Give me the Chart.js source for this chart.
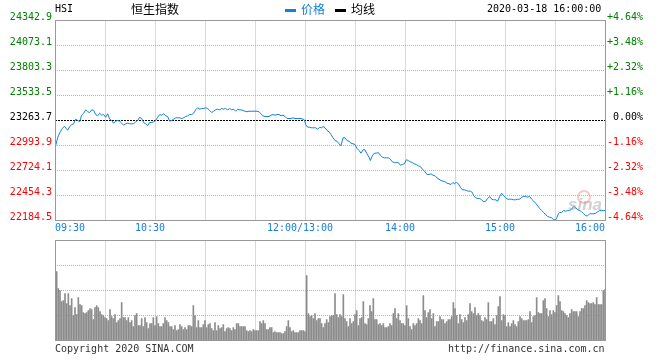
<!DOCTYPE html>
<html><head><meta charset="utf-8">
<script src="https://cdn.jsdelivr.net/npm/chart.js@4.4.1/dist/chart.umd.min.js"></script>
<style>
html,body{margin:0;padding:0;background:#fff;}
#wrap{position:relative;width:660px;height:360px;overflow:hidden;background:#fff;}
canvas{position:absolute;left:0;top:0;}
.t{position:absolute;white-space:nowrap;font-family:"DejaVu Sans Mono",monospace;font-size:10px;line-height:10px;color:#000;}
.c{position:absolute;white-space:nowrap;font-family:"Noto Sans CJK SC",sans-serif;font-size:12px;line-height:12px;color:#000;}
.dash{position:absolute;height:3px;width:11px;}
</style></head><body>
<div id="wrap">
<canvas id="vol" width="660" height="360"></canvas>
<canvas id="main" width="660" height="360"></canvas>
<div class="t" style="left:55px;top:4px;">HSI</div>
<div class="c" style="left:131px;top:3px;">恒生指数</div>
<div class="dash" style="left:285px;top:9px;background:#1580d8;"></div>
<div class="c" style="left:301px;top:3px;color:#1580d8;">价格</div>
<div class="dash" style="left:335px;top:9px;background:#000;"></div>
<div class="c" style="left:351px;top:3px;">均线</div>
<div class="t" style="left:487px;top:4px;">2020-03-18 16:00:00</div>
<div class="t" style="left:55px;top:344px;color:#333;">Copyright 2020 SINA.COM</div>
<div class="t" style="left:448px;top:344px;color:#333;">http://finance.sina.com.cn</div>
<div style="position:absolute;left:577px;top:190px;width:10px;height:10px;border:2px solid rgba(240,130,130,0.45);border-radius:50%;"></div>
<div style="position:absolute;left:568px;top:196px;font:italic bold 17px 'Liberation Sans',sans-serif;line-height:17px;color:rgba(150,150,150,0.45);">sina</div>
</div>
<script>
// ---------------- DATA ----------------
const prevClose = 23263.7;
const priceTicks = [22184.5, 22454.3, 22724.1, 22993.9, 23263.7, 23533.5, 23803.3, 24073.1, 24342.9];
const pctTicks = [-4.64, -3.48, -2.32, -1.16, 0, 1.16, 2.32, 3.48, 4.64];
const gridMinutes = [0, 30, 60, 90, 120, 150, 180, 210, 240, 270, 300, 330];
const timeTicks = [0, 60, 150, 210, 270, 330];
const timeLabels = ['09:30', '10:30', '12:00/13:00', '14:00', '15:00', '16:00'];
const volGrid = [0, 25, 50, 75, 100];

// trading minute index (0 = 09:30, 150 = 12:00/13:00, 330 = 16:00)
const priceTime = [
0,1.2,2.0,3.2,4.4,5.6,6.8,7.6,8.8,10.0,11.2,12.4,13.6,14.8,16.0,17.2,18.4,19.6,20.8,22.0,
23.2,24.4,25.6,26.8,28.0,29.2,30.4,31.6,32.8,34.0,35.2,36.4,37.6,38.8,40.0,41.2,42.4,43.6,44.8,46.0,
47.2,48.4,49.6,50.8,52.0,53.2,54.4,55.6,56.8,58.0,59.2,60.4,61.6,62.8,64.0,65.2,66.4,67.6,68.8,70.0,
71.2,72.4,73.6,74.8,76.0,77.2,78.4,79.6,80.8,82.0,83.2,84.4,85.6,86.8,88.0,89.2,90.4,91.6,92.8,94.0,
95.2,96.4,97.6,98.8,100.0,101.2,102.4,103.6,104.8,106.0,107.2,108.4,109.6,
110.4,111.6,112.8,114.0,115.2,116.4,117.6,118.8,120.0,121.2,122.4,123.6,124.8,126.0,127.2,128.4,129.6,130.8,132.0,133.2,
134.4,135.6,136.8,138.0,139.2,140.4,141.6,142.8,144.0,145.2,146.4,147.6,148.8,149.6,150.4,151.6,152.8,154.0,155.2,156.4,
157.6,158.8,160.0,160.8,162.0,163.2,164.4,165.6,166.8,168.0,169.2,170.4,171.6,172.8,174.0,175.2,176.4,177.6,178.8,180.0,
181.2,182.4,183.6,184.8,186.0,187.2,188.4,189.2,190.4,191.6,192.8,194.0,195.2,196.4,197.6,198.8,200.0,201.2,202.4,203.6,
204.8,206.0,207.2,208.4,209.6,210.8,212.0,213.2,214.4,215.6,216.8,218.0,219.2,
220.8,222.0,223.2,224.4,225.6,226.8,228.0,229.2,230.4,231.6,232.8,234.0,235.2,236.4,237.6,238.8,239.6,240.8,242.0,243.2,
244.4,245.6,246.8,248.0,249.2,250.4,251.2,252.4,253.6,254.8,256.0,257.2,258.4,259.6,260.8,262.0,263.2,264.4,265.6,266.8,
268.0,269.2,270.4,271.6,272.8,274.0,275.2,276.4,277.6,278.8,280.0,281.2,282.4,283.6,284.8,286.0,287.2,288.4,289.6,290.8,
292.0,293.2,294.4,295.6,296.8,298.0,299.2,300.4,301.2,302.0,302.8,304.0,305.2,306.4,307.6,308.8,310.0,311.2,312.4,313.6,
314.8,316.0,317.2,318.4,319.6,320.8,322.0,323.2,324.4,325.6,326.8,328.0,329.2,330
];
const priceValue = [
22958,23051,23099,23142,23177,23202,23177,23159,23196,23221,23228,23278,23264,23250,23321,23342,23379,23358,23350,23379,
23372,23328,23314,23342,23321,23328,23299,23336,23278,23264,23235,23256,23264,23256,23235,23213,23228,23235,23228,23228,
23228,23250,23264,23299,23285,23242,23228,23207,23242,23242,23250,23264,23299,23328,23321,23336,23314,23307,23256,23264,
23278,23293,23293,23293,23285,23293,23307,23314,23328,23328,23342,23379,23401,23386,23393,23393,23401,23393,23372,23350,
23364,23379,23386,23379,23393,23386,23393,23379,23393,23379,23386,23364,23386,
23379,23379,23372,23364,23358,23364,23364,23364,23364,23364,23358,23336,23314,23307,23307,23307,23321,23328,23321,23328,
23328,23314,23321,23307,23285,23285,23285,23293,23285,23285,23285,23285,23278,23271,23221,23191,23191,23185,23185,23185,
23170,23191,23185,23199,23185,23156,23142,23113,23077,23048,23040,23012,22991,23077,23077,23048,23040,23019,23012,23005,
22962,22940,22911,22948,22948,22904,22868,22832,22883,22911,22911,22918,22889,22868,22861,22861,22861,22846,22818,22810,
22810,22810,22781,22789,22796,22840,22832,22818,22810,22796,22789,22775,22767,
22732,22710,22681,22681,22689,22673,22667,22645,22630,22616,22609,22602,22587,22581,22573,22595,22581,22595,22581,22544,
22516,22516,22508,22501,22501,22487,22451,22430,22422,22422,22408,22386,22393,22422,22444,22414,22408,22408,22393,22444,
22479,22451,22430,22414,22414,22414,22408,22408,22414,22414,22436,22444,22444,22436,22444,22414,22393,22371,22343,22314,
22292,22271,22249,22228,22220,22214,22192,22192,22220,22257,22271,22271,22292,22285,22292,22292,22306,22336,22322,22300,
22292,22278,22257,22235,22235,22257,22257,22257,22263,22278,22292,22292,22292,22292
];

// per-minute volume (relative units, panel top = 100), minutes 1..330
const volume = [
69,52,50,39,40,47,37,47,35,42, 25,33,26,43,36,35,28,27,28,30, 32,31,21,33,35,33,29,26,25,23,
22,20,31,24,22,26,18,20,22,38, 23,23,20,23,18,20,14,25,27,15, 15,22,14,23,18,12,17,17,23,15,
24,17,14,14,17,23,20,18,14,14, 11,15,10,11,16,14,11,13,11,15, 15,14,35,25,13,20,13,13,16,20,
13,16,17,12,10,18,10,15,12,13, 16,9,12,13,12,10,13,11,17,
17,14,14,14,14,10,9,10,9,11, 10,10,10,19,17,20,17,11,11,13, 13,8,9,8,8,8,7,7,9,14,
20,13,9,10,8,8,8,10,10,10, 9,
65,27,24,25,22,27,20,22,22,17, 13,17,21,18,24,25,25,47,26,23, 26,24,46,22,19,14,22,17,19,26,
30,15,22,23,39,17,16,22,35,29, 42,21,21,16,17,15,17,13,13,14, 17,15,27,32,22,27,20,17,17,15,
35,22,14,11,17,15,17,22,20,17,
45,30,23,28,31,22,27,14,19,19, 24,21,21,17,19,21,21,24,38,32, 25,17,26,21,18,23,20,26,37,29,
27,33,25,27,25,20,19,23,21,38, 19,19,22,16,25,34,44,20,26,25, 14,18,14,17,20,16,14,19,24,22,
20,20,20,21,29,18,24,25,43,28, 27,27,40,42,32,24,30,26,30,28, 35,45,39,30,29,27,25,23,27,31,
29,29,29,24,29,32,32,35,40,38, 37,37,38,36,43,36,36,36,50,51
];

// ---------------- STYLE ----------------
const BLUE = '#1580d8';
const GRID = '#b4b4b4';
const FRAME = '#999999';
const GREEN = '#008000';
const RED = '#ff0000';
const MONO = {family: "'DejaVu Sans Mono', monospace", size: 10};

const framePlugin = {
  id: 'frame',
  afterDatasetsDraw(chart) {
    const {ctx, chartArea: a} = chart;
    ctx.save();
    ctx.strokeStyle = FRAME;
    ctx.lineWidth = 1;
    ctx.setLineDash([]);
    const l = Math.round(a.left) + 0.5, r = Math.round(a.right) + 0.5;
    const t = Math.floor(a.top) + 0.5, b = Math.floor(a.bottom) + 0.5;
    ctx.strokeRect(l, t, r - l, b - t);
    ctx.restore();
  }
};

const timeLabelPlugin = {
  id: 'timeLabels',
  afterDraw(chart) {
    const {ctx, scales: {x}} = chart;
    ctx.save();
    ctx.font = "10px 'DejaVu Sans Mono', monospace";
    ctx.fillStyle = BLUE;
    ctx.textBaseline = 'alphabetic';
    timeTicks.forEach((v, i) => {
      let px = x.getPixelForValue(v);
      if (i === 0) { ctx.textAlign = 'left'; }
      else if (i === timeTicks.length - 1) { ctx.textAlign = 'right'; }
      else { ctx.textAlign = 'center'; px -= 5; }
      ctx.fillText(timeLabels[i], px, 231);
    });
    ctx.restore();
  }
};

function tickColor(v, ref) {
  if (Math.abs(v - ref) < 1e-6) return '#000';
  return v > ref ? GREEN : RED;
}

new Chart(document.getElementById('main'), {
  type: 'line',
  data: {
    datasets: [
      {
        label: '价格',
        data: priceTime.map((t, i) => ({x: t, y: priceValue[i]})),
        borderColor: BLUE, borderWidth: 1, pointRadius: 0, tension: 0, fill: false, yAxisID: 'y', order: 1
      },
      {
        label: '昨收',
        data: [{x: 0, y: prevClose}, {x: 330, y: prevClose}],
        borderColor: '#000', borderWidth: 1, borderDash: [2, 1], pointRadius: 0, fill: false, yAxisID: 'y', order: 2
      }
    ]
  },
  options: {
    responsive: false, animation: false, devicePixelRatio: 1,
    layout: {padding: {top: 20.5, left: 0, right: 0, bottom: 0}},
    plugins: {legend: {display: false}, tooltip: {enabled: false}},
    scales: {
      x: {
        type: 'linear', min: 0, max: 330, position: 'bottom',
        afterBuildTicks: s => { s.ticks = gridMinutes.map(v => ({value: v})); },
        afterFit: s => { s.height = 139.5; },
        ticks: {display: false},
        grid: {color: GRID, lineWidth: 1, drawTicks: false},
        border: {display: false, dash: [1, 1]}
      },
      y: {
        type: 'linear', position: 'left', min: priceTicks[0], max: priceTicks[priceTicks.length - 1],
        afterBuildTicks: s => { s.ticks = priceTicks.map(v => ({value: v})); },
        afterFit: s => { s.width = 55; },
        ticks: {
          autoSkip: false, padding: 3, labelOffset: -3, font: MONO,
          callback: v => Number(v).toFixed(1),
          color: c => tickColor(c.tick ? c.tick.value : prevClose, prevClose)
        },
        grid: {
          drawTicks: false, lineWidth: 1,
          color: c => (c.tick && Math.abs(c.tick.value - prevClose) < 1e-6) ? 'rgba(0,0,0,0)' : GRID
        },
        border: {display: false, dash: [1, 1]}
      },
      y2: {
        type: 'linear', position: 'right', min: pctTicks[0], max: pctTicks[pctTicks.length - 1],
        afterBuildTicks: s => { s.ticks = pctTicks.map(v => ({value: v})); },
        afterFit: s => { s.width = 55; },
        ticks: {
          autoSkip: false, padding: 2, labelOffset: -3, font: MONO,
          callback: v => (v > 0 ? '+' : (v < 0 ? '' : ' ')) + Number(v).toFixed(2) + '%',
          color: c => tickColor(c.tick ? c.tick.value : 0, 0)
        },
        grid: {drawOnChartArea: false, drawTicks: false},
        border: {display: false}
      }
    }
  },
  plugins: [framePlugin, timeLabelPlugin]
});

new Chart(document.getElementById('vol'), {
  type: 'bar',
  data: {
    datasets: [{
      label: '成交量',
      data: volume.map((v, i) => ({x: i + 1, y: v})),
      backgroundColor: '#8c8c8c', borderWidth: 0, barThickness: 1, grouped: false
    }]
  },
  options: {
    responsive: false, animation: false, devicePixelRatio: 1,
    layout: {padding: {top: 240.5, left: 0, right: 55, bottom: 0}},
    plugins: {legend: {display: false}, tooltip: {enabled: false}},
    scales: {
      x: {
        type: 'linear', min: 0, max: 330, offset: false,
        afterBuildTicks: s => { s.ticks = gridMinutes.map(v => ({value: v})); },
        afterFit: s => { s.height = 19.5; },
        ticks: {display: false},
        grid: {color: GRID, lineWidth: 1, drawTicks: false, offset: false},
        border: {display: false, dash: [1, 1]}
      },
      y: {
        type: 'linear', position: 'left', min: volGrid[0], max: volGrid[volGrid.length - 1],
        afterBuildTicks: s => { s.ticks = volGrid.map(v => ({value: v})); },
        afterFit: s => { s.width = 55; },
        ticks: {display: false},
        grid: {color: GRID, lineWidth: 1, drawTicks: false},
        border: {display: false, dash: [1, 1]}
      }
    }
  },
  plugins: [framePlugin]
});
</script>
</body></html>
